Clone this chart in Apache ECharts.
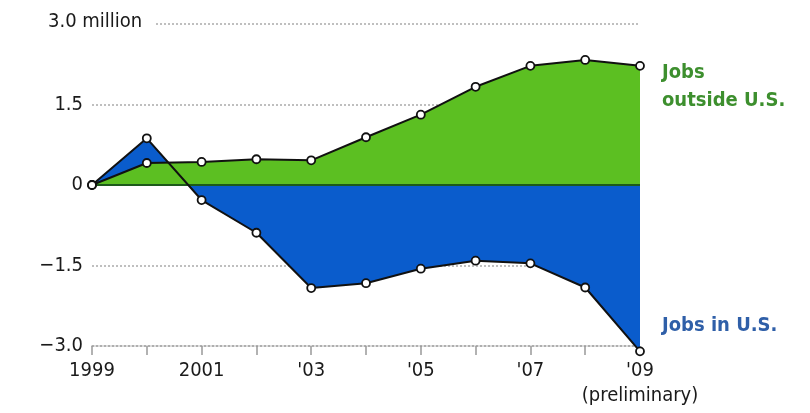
<!DOCTYPE html>
<html><head><meta charset="utf-8">
<script src="https://cdn.jsdelivr.net/npm/echarts@6/dist/echarts.min.js"></script>
<style>html,body{margin:0;padding:0;background:#fff}#c{width:810px;height:413px}</style>
</head><body><div id="c"></div>
<script>
const years = ['1999','2000','2001','2002','2003','2004','2005','2006','2007','2008','2009'];
const tickLabels = ['1999','','2001','',"'03",'',"'05",'',"'07",'',"'09\n(preliminary)"];
const jobsOutside = [0, 0.41, 0.43, 0.48, 0.46, 0.89, 1.31, 1.83, 2.22, 2.33, 2.22];
const jobsUS = [0, 0.87, -0.28, -0.89, -1.92, -1.83, -1.56, -1.41, -1.46, -1.91, -3.1];
const yTicks = {'3': '', '1.5': '1.5', '0': '0', '-1.5': '\u22121.5', '-3': '\u22123.0'};

const FONT = 'DejaVu Sans Condensed';
const chart = echarts.init(document.getElementById('c'));
const lineSeries = (name, data, label, color, offset) => ({
  name, type: 'line', data, z: 5, clip: false,
  symbol: 'circle', symbolSize: 8,
  itemStyle: { color: '#fff', borderColor: '#111', borderWidth: 1.8 },
  lineStyle: { color: '#111', width: 2 },
  emphasis: { disabled: true },
  endLabel: { show: true, formatter: label, color, fontFamily: FONT, fontWeight: 'bold', fontSize: 20, lineHeight: 28, offset, align: 'left' }
});
chart.setOption({
  animation: false,
  grid: { left: 92, right: 170, top: 24, bottom: 67 },
  xAxis: {
    type: 'category', data: years, boundaryGap: false,
    axisLine: { show: true, onZero: false, lineStyle: { color: '#aaa', type: [2, 2], width: 1.5 } },
    axisTick: { show: true, interval: 0, length: 9, inside: false, lineStyle: { color: '#999', width: 1.5 } },
    axisLabel: { interval: 0, formatter: (v, i) => tickLabels[i], color: '#1a1a1a', fontFamily: FONT, fontSize: 20, margin: 12, lineHeight: 25 },
    splitLine: { show: false }
  },
  yAxis: {
    type: 'value', min: -3, max: 3, interval: 1.5,
    axisLine: { show: false }, axisTick: { show: false },
    axisLabel: { formatter: v => yTicks[String(v)] ?? '', color: '#1a1a1a', fontFamily: FONT, fontSize: 20, margin: 9 },
    splitLine: { lineStyle: { color: '#aaa', type: [2, 2], width: 1.5 } }
  },
  series: [
    { type: 'line', data: jobsUS, symbol: 'none', clip: false, lineStyle: { width: 0 }, areaStyle: { color: '#0a5ccc', opacity: 1, origin: 0 }, z: 2, emphasis: { disabled: true } },
    { type: 'line', data: jobsOutside, symbol: 'none', lineStyle: { width: 0 }, areaStyle: { color: '#5cbf22', opacity: 1, origin: 0 }, z: 3, emphasis: { disabled: true },
      markLine: { silent: true, symbol: 'none', label: { show: false }, lineStyle: { color: '#1d5a1a', type: 'solid', width: 2 }, data: [{ yAxis: 0 }] } },
    lineSeries('Jobs in U.S.', jobsUS, 'Jobs in U.S.', '#2f5fa8', [14, -26]),
    lineSeries('Jobs outside U.S.', jobsOutside, 'Jobs\noutside U.S.', '#3d8f2e', [14, 21])
  ],
  graphic: [
    { type: 'text', left: 48, top: 12, z: 100,
      style: { text: '3.0 million', font: '20px "' + FONT + '"', fill: '#1a1a1a', backgroundColor: '#fff', padding: [0, 12, 0, 0] } }
  ]
});
</script></body></html>
